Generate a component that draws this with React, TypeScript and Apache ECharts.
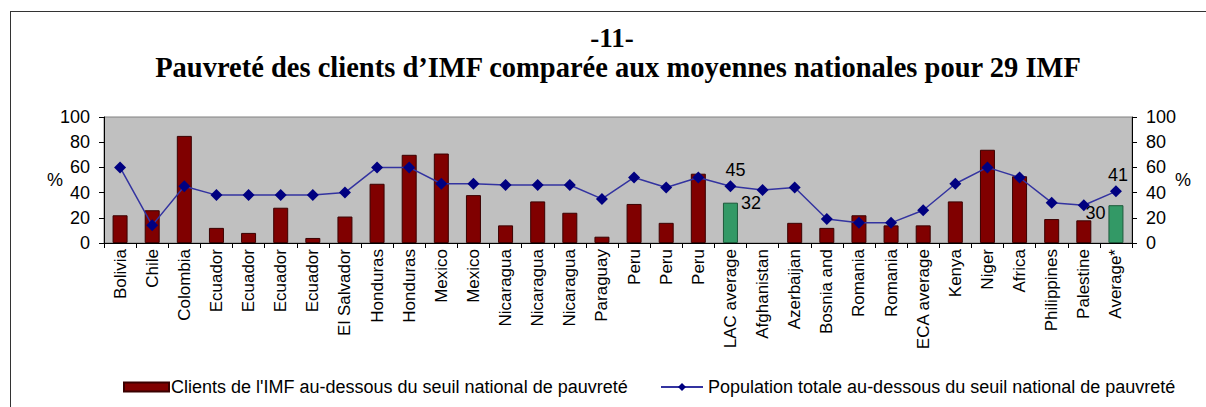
import React, { useEffect, useRef } from "react";
import * as echarts from "echarts";

const categories = [
  "Bolivia", "Chile", "Colombia", "Ecuador", "Ecuador", "Ecuador", "Ecuador", "El Salvador",
  "Honduras", "Honduras", "Mexico", "Mexico", "Nicaragua", "Nicaragua", "Nicaragua", "Paraguay",
  "Peru", "Peru", "Peru", "LAC average", "Afghanistan", "Azerbaijan", "Bosnia and", "Romania",
  "Romania", "ECA average", "Kenya", "Niger", "Africa", "Philippines", "Palestine", "Average*",
];
const clientsValues: (number | null)[] = [
  22, 26, 85, 12, 8, 28, 4, 21, 47, 70, 71, 38, 14, 33, 24, 5,
  31, 16, 55, 32, null, 16, 12, 22, 14, 14, 33, 74, 53, 19, 18, 30,
];
const populationValues = [
  60, 14, 45, 38, 38, 38, 38, 40, 60, 60, 47, 47, 46, 46, 46, 35,
  52, 44, 52, 45, 42, 44, 19, 16, 16, 26, 47, 60, 52, 32, 30, 41,
];
const averageIndices = [19, 31];
const yTicks = [0, 20, 40, 60, 80, 100];

const clientsName = "Clients de l'IMF au-dessous du seuil national de pauvreté";
const populationName = "Population totale au-dessous du seuil national de pauvreté";
const titleNumber = "-11-";
const titleText = "Pauvreté des clients d’IMF comparée aux moyennes nationales pour 29 IMF";

const SANS = "Liberation Sans, Arial, sans-serif";
const SERIF = "Liberation Serif, Times New Roman, serif";

export default function App() {
  const ref = useRef<HTMLDivElement>(null);
  useEffect(() => {
    if (!ref.current) return;
    const chart = echarts.init(ref.current, undefined, { renderer: "svg" });

    const barData = clientsValues.map((v, i) => {
      if (!averageIndices.includes(i)) return v;
      const last = i === categories.length - 1;
      return {
        value: v,
        itemStyle: { color: "#339966", borderColor: "#1d5a3b" },
        label: last
          ? { show: true, position: [-3, 8], align: "right", verticalAlign: "middle" }
          : { show: true, position: [18, 0], align: "left", verticalAlign: "middle" },
      };
    });
    const lineData = populationValues.map((v, i) => {
      if (!averageIndices.includes(i)) return v;
      const last = i === categories.length - 1;
      return {
        value: v,
        label: { show: true, position: "top", distance: 1, offset: last ? [2, 0] : [5, 0] },
      };
    });

    chart.setOption({
      animation: false,
      backgroundColor: "#ffffff",
      textStyle: { fontFamily: SANS },
      grid: {
        left: 104, right: 74, top: 117, height: 126,
        show: true, backgroundColor: "#c0c0c0", borderColor: "#808080", borderWidth: 1,
        containLabel: false,
      },
      legend: [
        {
          data: [{ name: clientsName, icon: "rect" }],
          left: 118, top: 373, itemWidth: 45, itemHeight: 9, itemGap: 6,
          textStyle: { fontSize: 18, color: "#000", fontFamily: SANS, padding: [0, 0, 0, -3] },
        },
        {
          data: [{ name: populationName }],
          left: 655, top: 373, itemWidth: 42, itemHeight: 10,
          textStyle: { fontSize: 18, color: "#000", fontFamily: SANS },
        },
      ],
      xAxis: {
        type: "category",
        data: categories,
        boundaryGap: true,
        axisLine: { lineStyle: { color: "#000", width: 1 } },
        axisTick: { show: true, length: 5, alignWithLabel: false, interval: 0, lineStyle: { color: "#000" } },
        axisLabel: {
          interval: 0, rotate: 90, fontSize: 17, color: "#000", margin: 6, fontFamily: SANS,
        },
        splitLine: { show: false },
      },
      yAxis: [
        {
          type: "value", min: 0, max: 100, interval: 20, position: "left",
          axisLine: { show: true, lineStyle: { color: "#000" } },
          axisTick: { show: true, length: 5, lineStyle: { color: "#000" } },
          axisLabel: { fontSize: 18, color: "#000", margin: 14, fontFamily: SANS,
            formatter: (v: number) => (yTicks.includes(v) ? String(v) : "") },
          splitLine: { show: false },
        },
        {
          type: "value", min: 0, max: 100, interval: 20, position: "right",
          axisLine: { show: true, lineStyle: { color: "#000" } },
          axisTick: { show: true, length: 5, lineStyle: { color: "#000" } },
          axisLabel: { fontSize: 18, color: "#000", margin: 14, fontFamily: SANS,
            formatter: (v: number) => (yTicks.includes(v) ? String(v) : "") },
          splitLine: { show: false },
        },
      ],
      series: [
        {
          name: clientsName,
          type: "bar",
          data: barData,
          barWidth: 15,
          itemStyle: { color: "#800000", borderColor: "#3a0000", borderWidth: 1 },
          label: { show: false, fontSize: 18, color: "#000", fontFamily: SANS },
          z: 2,
        },
        {
          name: populationName,
          type: "line",
          data: lineData,
          symbol: "diamond",
          symbolSize: 12,
          itemStyle: { color: "#000080" },
          lineStyle: { color: "#3333a0", width: 1.5 },
          label: { show: false, fontSize: 18, color: "#000", fontFamily: SANS },
          z: 3,
        },
      ],
      graphic: [
        { type: "line", shape: { x1: 10, y1: 11.5, x2: 1206, y2: 11.5 }, style: { stroke: "#333", lineWidth: 1 } },
        { type: "line", shape: { x1: 10.5, y1: 11, x2: 10.5, y2: 407 }, style: { stroke: "#333", lineWidth: 1 } },
        {
          type: "text", x: 612, y: 38,
          style: { text: titleNumber, fontFamily: SERIF, fontWeight: "bold", fontSize: 27,
            fill: "#000", align: "center", verticalAlign: "middle" },
        },
        {
          type: "text", x: 618, y: 67,
          style: { text: titleText, fontFamily: SERIF, fontWeight: "bold", fontSize: 28.5,
            fill: "#000", align: "center", verticalAlign: "middle" },
        },
        {
          type: "text", x: 55, y: 180,
          style: { text: "%", fontFamily: SANS, fontSize: 18, fill: "#000", align: "center", verticalAlign: "middle" },
        },
        {
          type: "text", x: 1183, y: 180,
          style: { text: "%", fontFamily: SANS, fontSize: 18, fill: "#000", align: "center", verticalAlign: "middle" },
        },
      ],
    });
    return () => chart.dispose();
  }, []);
  return (
    <div
      ref={ref}
      style={{ position: "fixed", left: 0, top: 0, width: 1206, height: 407, background: "#fff" }}
    />
  );
}
